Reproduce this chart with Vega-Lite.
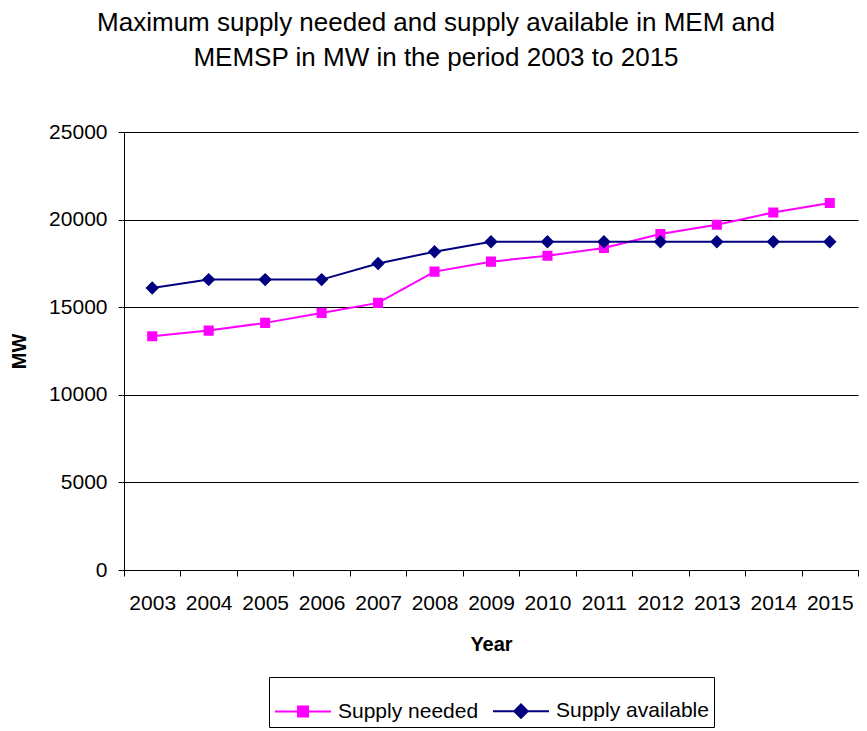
{
  "$schema": "https://vega.github.io/schema/vega-lite/v6.json",
  "width": 734,
  "height": 438,
  "autosize": "none",
  "padding": {"left": 124, "top": 132, "right": 9, "bottom": 161},
  "background": "white",
  "config": {
    "font": "Liberation Sans",
    "view": {"stroke": null},
    "axis": {"labelFont": "Liberation Sans", "titleFont": "Liberation Sans", "labelColor": "black", "titleColor": "black"},
    "legend": {"layout": {"bottom": {"anchor": "middle"}}}
  },
  "title": {
    "text": ["Maximum supply needed and supply available in MEM and", "MEMSP in MW in the period 2003 to 2015"],
    "fontSize": 26,
    "fontWeight": "normal",
    "font": "Liberation Sans",
    "color": "black",
    "anchor": "middle",
    "frame": "group",
    "dx": -55,
    "lineHeight": 35,
    "offset": 50
  },
  "data": {
    "values": [
      {"year": "2003", "series": "Supply needed", "mw": 13340},
      {"year": "2004", "series": "Supply needed", "mw": 13665},
      {"year": "2005", "series": "Supply needed", "mw": 14105},
      {"year": "2006", "series": "Supply needed", "mw": 14675},
      {"year": "2007", "series": "Supply needed", "mw": 15245},
      {"year": "2008", "series": "Supply needed", "mw": 17030},
      {"year": "2009", "series": "Supply needed", "mw": 17600},
      {"year": "2010", "series": "Supply needed", "mw": 17940},
      {"year": "2011", "series": "Supply needed", "mw": 18380},
      {"year": "2012", "series": "Supply needed", "mw": 19180},
      {"year": "2013", "series": "Supply needed", "mw": 19710},
      {"year": "2014", "series": "Supply needed", "mw": 20410},
      {"year": "2015", "series": "Supply needed", "mw": 20950},
      {"year": "2003", "series": "Supply available", "mw": 16100},
      {"year": "2004", "series": "Supply available", "mw": 16575},
      {"year": "2005", "series": "Supply available", "mw": 16575},
      {"year": "2006", "series": "Supply available", "mw": 16575},
      {"year": "2007", "series": "Supply available", "mw": 17490},
      {"year": "2008", "series": "Supply available", "mw": 18170},
      {"year": "2009", "series": "Supply available", "mw": 18740},
      {"year": "2010", "series": "Supply available", "mw": 18740},
      {"year": "2011", "series": "Supply available", "mw": 18740},
      {"year": "2012", "series": "Supply available", "mw": 18740},
      {"year": "2013", "series": "Supply available", "mw": 18740},
      {"year": "2014", "series": "Supply available", "mw": 18740},
      {"year": "2015", "series": "Supply available", "mw": 18740}
    ]
  },
  "encoding": {
    "x": {
      "field": "year",
      "type": "ordinal",
      "bandPosition": 0.5,
      "scale": {"type": "band", "paddingInner": 0, "paddingOuter": 0},
      "axis": {
        "title": "Year",
        "titleFontSize": 20,
        "titleFontWeight": "bold",
        "titlePadding": 21,
        "labelFontSize": 21,
        "labelAngle": 0,
        "labelPadding": 16,
        "tickBand": "extent",
        "tickSize": 6,
        "tickColor": "black",
        "domainColor": "black",
        "grid": false
      }
    },
    "y": {
      "field": "mw",
      "type": "quantitative",
      "scale": {"domain": [0, 25000], "nice": false},
      "axis": {
        "title": "MW",
        "titleFontSize": 20,
        "titleFontWeight": "bold",
        "titlePadding": 19,
        "values": [0, 5000, 10000, 15000, 20000, 25000],
        "format": "d",
        "labelFontSize": 21,
        "labelPadding": 11,
        "tickSize": 6,
        "tickColor": "black",
        "domainColor": "black",
        "grid": true,
        "gridColor": "black",
        "gridOpacity": 1,
        "gridWidth": 1
      }
    },
    "color": {
      "field": "series",
      "type": "nominal",
      "sort": ["Supply needed", "Supply available"],
      "scale": {"domain": ["Supply needed", "Supply available"], "range": ["#FF00FF", "#000080"]},
      "legend": {
        "title": null,
        "orient": "bottom",
        "offset": 23,
        "direction": "horizontal",
        "labelFontSize": 21,
        "labelFont": "Liberation Sans",
        "labelColor": "black",
        "labelLimit": 300,
        "labelOffset": 6,
        "columnPadding": 10,
        "padding": 5,
        "strokeColor": "black",
        "fillColor": "white",
        "symbolSize": 3136,
        "symbolStrokeWidth": 2,
        "symbolOpacity": 1
      }
    }
  },
  "layer": [
    {"mark": {"type": "line", "strokeWidth": 2}},
    {
      "mark": {"type": "point", "filled": true, "opacity": 1, "size": 3136, "strokeWidth": 0},
      "encoding": {
        "shape": {
          "field": "series",
          "type": "nominal",
          "scale": {"domain": ["Supply needed", "Supply available"], "range": ["M -1 0 L 1 0 M -0.18 -0.18 L 0.18 -0.18 L 0.18 0.18 L -0.18 0.18 Z", "M -1 0 L 1 0 M 0 -0.24 L 0.24 0 L 0 0.24 L -0.24 0 Z"]},
          "legend": null
        }
      }
    }
  ]
}
